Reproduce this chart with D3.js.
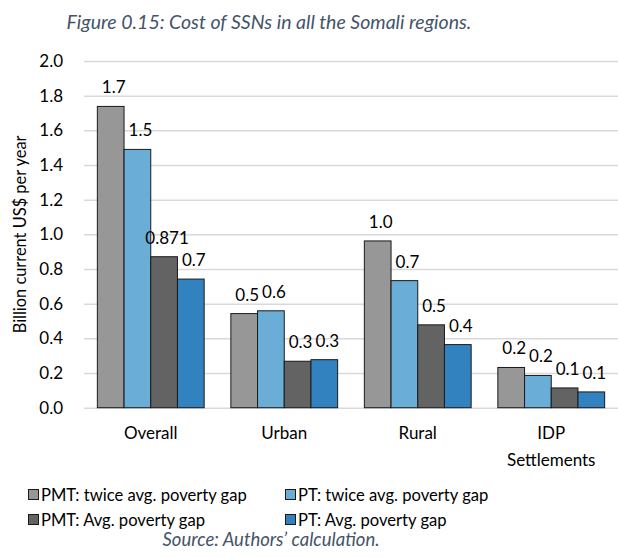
<!DOCTYPE html>
<html><head><meta charset="utf-8">
<script src="https://cdn.jsdelivr.net/npm/d3@7"></script>
<style>body{margin:0;background:#fff}svg{display:block}text{font-family:Lato,"Open Sans",sans-serif}</style>
</head><body><svg id="c" width="618" height="558"></svg>
<script>
const categories = ["Overall", "Urban", "Rural", "IDP Settlements"];
const seriesNames = ["PMT: twice avg. poverty gap", "PT: twice avg. poverty gap", "PMT: Avg. poverty gap", "PT: Avg. poverty gap"];
const pmtTwice = [1.738, 0.543, 0.962, 0.232];
const ptTwice = [1.490, 0.559, 0.733, 0.186];
const pmtAvg = [0.871, 0.268, 0.478, 0.114];
const ptAvg = [0.742, 0.277, 0.364, 0.091];
const labelsPmtTwice = ["1.7", "0.5", "1.0", "0.2"];
const labelsPtTwice = ["1.5", "0.6", "0.7", "0.2"];
const labelsPmtAvg = ["0.871", "0.3", "0.5", "0.1"];
const labelsPtAvg = ["0.7", "0.3", "0.4", "0.1"];
const yTicks = [0, 0.2, 0.4, 0.6, 0.8, 1.0, 1.2, 1.4, 1.6, 1.8, 2.0];
const colors = ["#979797", "#6aaed8", "#636363", "#3282bf"];

const series = [pmtTwice, ptTwice, pmtAvg, ptAvg];
const labels = [labelsPmtTwice, labelsPtTwice, labelsPmtAvg, labelsPtAvg];

const svg = d3.select("#c");
const m = {l: 84, r: 0, t: 61, b: 151};
const W = 618, H = 558;
const x0 = d3.scaleBand().domain(categories).range([m.l, W - m.r]).paddingInner(0.2).paddingOuter(0.1);
const x1 = d3.scaleBand().domain(d3.range(4)).range([0, x0.bandwidth()]);
const y = d3.scaleLinear().domain([0, 2]).range([H - m.b + 0.7, m.t]);

// title
svg.append("text").attr("x", 269).attr("y", 29).attr("text-anchor", "middle")
  .attr("font-style", "italic").attr("font-size", 19.5).attr("fill", "#44546a")
  .text("Figure 0.15: Cost of SSNs in all the Somali regions.");

// grid
const yAxis = d3.axisLeft(y).tickValues(yTicks).tickFormat(d3.format(".1f")).tickSize(-(W - m.l - m.r)).tickPadding(21);
const ga = svg.append("g").attr("transform", `translate(${m.l},0)`).call(yAxis);
ga.select(".domain").remove();
ga.selectAll(".tick line").attr("stroke", "#d9d9d9").attr("stroke-width", 1.5);
ga.selectAll(".tick text").attr("font-size", 17).attr("fill", "#000").attr("font-family", "Lato");

// y title
svg.append("text").attr("transform", `translate(26,${(y(0) + y(2)) / 2}) rotate(-90)`)
  .attr("text-anchor", "middle").attr("font-size", 16.4).attr("fill", "#000")
  .text("Billion current US$ per year");

// bars
const g = svg.append("g");
categories.forEach((c, i) => {
  series.forEach((s, j) => {
    g.append("rect").attr("x", x0(c) + x1(j)).attr("y", y(s[i]))
      .attr("width", x1.bandwidth()).attr("height", y(0) - y(s[i]))
      .attr("fill", colors[j]).attr("stroke", "#1a1a1a").attr("stroke-width", 1);
    g.append("text").attr("x", x0(c) + x1(j) + x1.bandwidth() / 2 + 3).attr("y", y(s[i]) - 13)
      .attr("text-anchor", "middle").attr("font-size", 17).attr("fill", "#000")
      .text(labels[j][i]);
  });
});

// x labels
categories.forEach(c => {
  const cx = x0(c) + x0.bandwidth() / 2;
  const words = c === "IDP Settlements" ? ["IDP", "Settlements"] : [c];
  words.forEach((w, k) => {
    svg.append("text").attr("x", cx).attr("y", 439 + k * 27).attr("text-anchor", "middle")
      .attr("font-size", 17).attr("fill", "#000").text(w);
  });
});

// legend
const legPos = [[28, 495], [285, 495], [28, 520], [285, 520]];
seriesNames.forEach((n, j) => {
  const [lx, ly] = legPos[j];
  svg.append("rect").attr("x", lx + 0.5).attr("y", ly - 5.5).attr("width", 10).attr("height", 10)
    .attr("fill", colors[j]).attr("stroke", "#1a1a1a").attr("stroke-width", 1);
  svg.append("text").attr("x", lx + 13).attr("y", ly + 6).attr("font-size", 16.6).attr("fill", "#000").text(n);
});

// source
svg.append("text").attr("x", 271).attr("y", 546).attr("text-anchor", "middle")
  .attr("font-style", "italic").attr("font-size", 18.5).attr("fill", "#44546a")
  .text("Source: Authors’ calculation.");
</script></body></html>
